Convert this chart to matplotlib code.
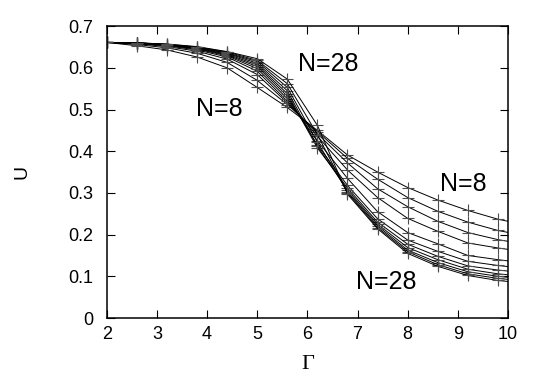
import numpy as np
import matplotlib.pyplot as plt

plt.rcParams['font.family'] = 'Liberation Sans'
plt.rcParams['font.size'] = 13

# Gamma values where the curves were sampled (last one lies past the right edge)
gamma = [2.0, 2.6, 3.2, 3.8, 4.4, 5.0, 5.6, 6.2, 6.8, 7.4, 8.0, 8.6, 9.2, 9.8, 10.4]
sizes = [8, 10, 12, 14, 16, 18, 20, 22, 24, 26, 28]

# U(Gamma) for each N
U = {
    8:  [0.661, 0.653, 0.643, 0.626, 0.600, 0.553, 0.505, 0.450, 0.391, 0.350, 0.313, 0.283, 0.258, 0.237, 0.222],
    10: [0.661, 0.656, 0.648, 0.635, 0.613, 0.570, 0.512, 0.447, 0.383, 0.333, 0.289, 0.256, 0.230, 0.210, 0.196],
    12: [0.661, 0.658, 0.651, 0.640, 0.621, 0.584, 0.516, 0.442, 0.372, 0.310, 0.267, 0.232, 0.205, 0.188, 0.176],
    14: [0.661, 0.659, 0.653, 0.643, 0.626, 0.592, 0.520, 0.436, 0.355, 0.289, 0.239, 0.208, 0.180, 0.168, 0.158],
    16: [0.661, 0.659, 0.654, 0.645, 0.629, 0.598, 0.526, 0.425, 0.335, 0.255, 0.205, 0.178, 0.150, 0.140, 0.131],
    18: [0.661, 0.660, 0.655, 0.646, 0.631, 0.603, 0.532, 0.415, 0.318, 0.238, 0.187, 0.160, 0.136, 0.126, 0.118],
    20: [0.661, 0.660, 0.655, 0.647, 0.633, 0.607, 0.538, 0.408, 0.312, 0.230, 0.177, 0.148, 0.125, 0.115, 0.108],
    22: [0.661, 0.660, 0.656, 0.648, 0.635, 0.611, 0.545, 0.412, 0.307, 0.225, 0.169, 0.140, 0.117, 0.106, 0.099],
    24: [0.661, 0.660, 0.656, 0.649, 0.636, 0.615, 0.553, 0.422, 0.303, 0.221, 0.163, 0.133, 0.111, 0.100, 0.093],
    26: [0.661, 0.660, 0.657, 0.650, 0.638, 0.618, 0.562, 0.440, 0.300, 0.217, 0.159, 0.128, 0.106, 0.095, 0.088],
    28: [0.661, 0.660, 0.657, 0.651, 0.639, 0.622, 0.573, 0.462, 0.297, 0.214, 0.155, 0.124, 0.102, 0.090, 0.083],
}

fig = plt.figure(figsize=(5.45, 3.82), dpi=100)
ax = fig.add_axes([0.196, 0.1675, 0.736, 0.764])

for n in sizes:
    ax.plot(gamma, U[n], color='black', lw=0.7, marker='+', ms=9,
            mec='0.3', mew=0.8)

ax.set_xlim(2, 10)
ax.set_ylim(0, 0.7)
ax.set_xticks(range(2, 11))
ax.set_yticks(np.arange(0, 0.71, 0.1))
ax.set_yticklabels(['0', '0.1', '0.2', '0.3', '0.4', '0.5', '0.6', '0.7'])
ax.tick_params(direction='in', length=6, width=0.8, top=True, right=True,
               labelsize=13)
ax.tick_params(axis='x', pad=6)
ax.tick_params(axis='y', pad=10)
for s in ax.spines.values():
    s.set_linewidth(1.1)

ax.set_xlabel('Γ', fontsize=16, family='Liberation Serif', va='center')
ax.xaxis.set_label_coords(0.5, -0.16)
ax.set_ylabel('U', fontsize=14, va='center')
ax.yaxis.set_label_coords(-0.212, 0.5)

ax.text(6.42, 0.61, 'N=28', fontsize=18, ha='center', va='center')
ax.text(4.25, 0.502, 'N=8', fontsize=18, ha='center', va='center')
ax.text(9.1, 0.322, 'N=8', fontsize=18, ha='center', va='center')
ax.text(7.57, 0.086, 'N=28', fontsize=18, ha='center', va='center')

plt.savefig('out.png', dpi=100)
